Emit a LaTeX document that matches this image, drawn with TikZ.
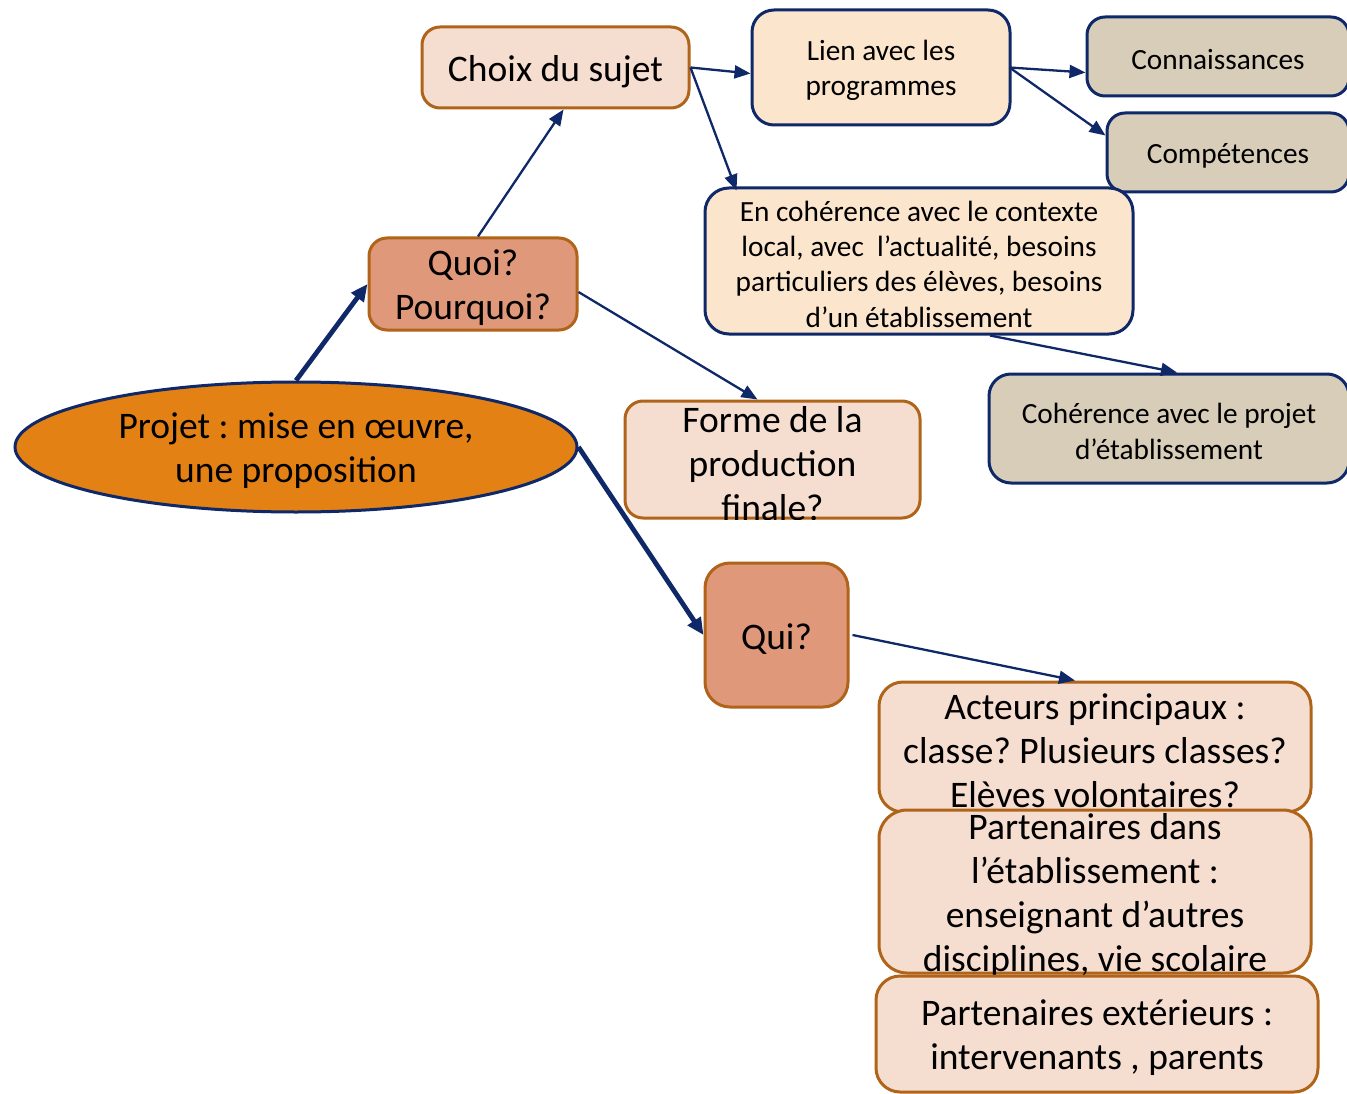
\documentclass[tikz,border=0pt]{standalone}
\usepackage{fontspec}
\setmainfont{Carlito}
\frenchspacing
\usetikzlibrary{shapes.geometric,arrows.meta}
\definecolor{navy}{RGB}{14,40,104}
\definecolor{brownb}{RGB}{176,100,26}
\definecolor{orangef}{RGB}{228,129,20}
\definecolor{salmonf}{RGB}{224,152,122}
\definecolor{pinkf}{RGB}{245,221,208}
\definecolor{creamf}{RGB}{251,229,205}
\definecolor{tanf}{RGB}{216,205,184}
\begin{document}
\begin{tikzpicture}[x=1pt,y=-1pt,
  big/.style={font=\fontsize{37.5}{44}\selectfont,align=center,inner sep=0pt},
  small/.style={font=\fontsize{29.3}{35.3}\selectfont,align=center,inner sep=0pt},
  bx/.style={rectangle,rounded corners=18pt,line width=3pt,inner sep=0pt,anchor=center},
  brownbox/.style={bx,draw=brownb},
  navybox/.style={bx,draw=navy},
  arr/.style={draw=navy,line width=2.3pt,-{Triangle[length=16pt,width=13pt]}},
  arrbig/.style={draw=navy,line width=4.8pt,-{Triangle[length=17pt,width=15pt]}},
]
\useasboundingbox (0,0) rectangle (1347,1094);

% ellipse
\node[ellipse,draw=navy,line width=3pt,fill=orangef,minimum width=562pt,minimum height=130pt,inner sep=0pt] (ell) at (296,447) {};
\node[big] (ellT) at ([yshift=-4pt]ell.center) {Projet : mise en œuvre,\\une proposition};

% boxes
\node[brownbox,fill=salmonf,minimum width=208pt,minimum height=92pt] (quoi) at (473,284) {};
\node[big] (quoiT) at ([yshift=-4pt]quoi.center) {Quoi?\\Pourquoi?};

\node[brownbox,fill=pinkf,minimum width=267pt,minimum height=81pt] (choix) at (555.5,67.5) {};
\node[big] (choixT) at ([yshift=-4pt]choix.center) {Choix du sujet};

\node[navybox,fill=creamf,rounded corners=22pt,minimum width=258pt,minimum height=115pt] (lien) at (881,67.5) {};
\node[small] (lienT) at ([yshift=-3pt]lien.center) {Lien avec les\\programmes};

\node[navybox,fill=tanf,minimum width=262pt,minimum height=79pt] (conn) at (1218,56.5) {};
\node[small] (connT) at ([yshift=-3pt]conn.center) {Connaissances};

\node[navybox,fill=tanf,minimum width=242pt,minimum height=79pt] (comp) at (1228,152.5) {};
\node[small] (compT) at ([yshift=-3pt]comp.center) {Compétences};

\node[navybox,fill=creamf,rounded corners=24pt,minimum width=428pt,minimum height=146pt] (coh) at (919,261) {};
\node[small] (cohT) at ([yshift=-3pt]coh.center) {En cohérence avec le contexte\\local, avec\ \ l’actualité, besoins\\particuliers des élèves, besoins\\d’un établissement};

\node[navybox,fill=tanf,rounded corners=22pt,minimum width=360pt,minimum height=109pt] (cohp) at (1169,428.5) {};
\node[small] (cohpT) at ([yshift=-3pt]cohp.center) {Cohérence avec le projet\\d’établissement};

\node[brownbox,fill=pinkf,minimum width=295pt,minimum height=117pt] (forme) at (772.5,459.5) {};
\begin{scope}
  \clip[rounded corners=18pt] (forme.north west) rectangle (forme.south east);
  \node[big] (formeT) at ([yshift=-4pt]forme.center) {Forme de la\\production\\finale?};
\end{scope}

\node[brownbox,fill=salmonf,rounded corners=25pt,minimum width=143pt,minimum height=144pt] (qui) at (776.5,635) {};
\node[big] (quiT) at ([yshift=-4pt]qui.center) {Qui?};

\node[brownbox,fill=pinkf,rounded corners=24pt,minimum width=432pt,minimum height=130pt] (act) at (1095,747) {};
\begin{scope}
  \clip[rounded corners=24pt] (act.north west) rectangle (act.south east);
  \node[big] (actT) at ([yshift=-4pt]act.center) {Acteurs principaux :\\classe? Plusieurs classes?\\Elèves volontaires?};
\end{scope}

\node[brownbox,fill=pinkf,rounded corners=28pt,minimum width=432pt,minimum height=163pt] (pdans) at (1095,891.5) {};
\begin{scope}
  \clip[rounded corners=28pt] (pdans.north west) rectangle (pdans.south east);
  \node[big] (pdansT) at ([yshift=-4pt]pdans.center) {Partenaires dans\\l’établissement :\\enseignant d’autres\\disciplines, vie scolaire};
\end{scope}

\node[brownbox,fill=pinkf,rounded corners=24pt,minimum width=442pt,minimum height=116pt] (pext) at (1097,1034) {};
\node[big] (pextT) at ([yshift=-4pt]pext.center) {Partenaires extérieurs :\\intervenants , parents};

% connectors
\draw[arrbig] (ell.north) -- (quoi.west);
\draw[arrbig] (ell.east) -- (qui.west);
\draw[arr] ([xshift=5pt]quoi.north) -- ([xshift=8pt]choix.south);
\draw[arr] ([yshift=-8pt]quoi.east) -- ([xshift=-15pt]forme.north);
\draw[arr] (choix.east) -- ([yshift=-6pt]lien.west);
\draw[arr] (choix.east) -- ([xshift=33pt,yshift=-4pt]coh.north west);
\draw[arr] ([xshift=-2pt]lien.east) -- ([yshift=-16pt]conn.west);
\draw[arr] ([xshift=-2pt]lien.east) -- ([yshift=-24pt]comp.north west);
\draw[arr] ([xshift=71pt]coh.south) -- ([xshift=8pt]cohp.north);
\draw[arr] ([xshift=3pt]qui.east) -- ([xshift=-20pt]act.north);
\end{tikzpicture}
\end{document}
